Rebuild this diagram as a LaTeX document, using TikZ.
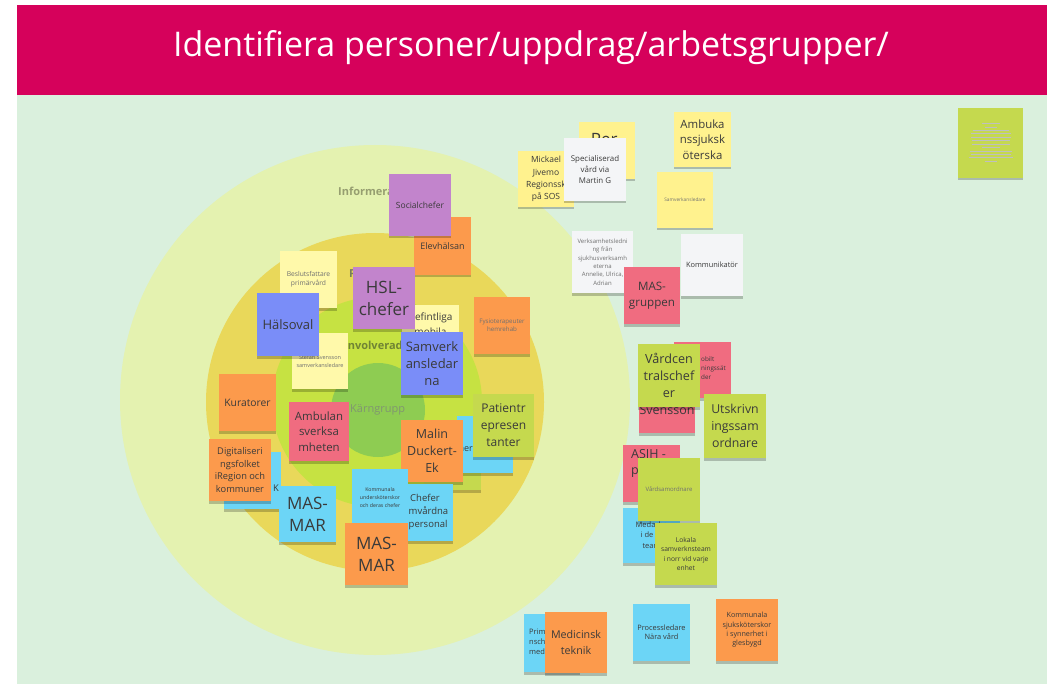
\documentclass[tikz,border=0pt]{standalone}
\usepackage{fontspec}
\setmainfont{Open Sans}
\usetikzlibrary{shadows}
\definecolor{hdr}{RGB}{214,1,91}
\definecolor{bgmint}{RGB}{218,240,221}
\definecolor{cOuter}{RGB}{228,242,176}
\definecolor{cYel}{RGB}{233,216,90}
\definecolor{cLime}{RGB}{198,226,66}
\definecolor{cCore}{RGB}{142,204,82}
\definecolor{nYelL}{RGB}{255,249,170}
\definecolor{nYel}{RGB}{255,242,142}
\definecolor{nOra}{RGB}{252,154,76}
\definecolor{nPur}{RGB}{194,132,204}
\definecolor{nBlu}{RGB}{122,141,248}
\definecolor{nCya}{RGB}{108,213,246}
\definecolor{nRed}{RGB}{240,108,128}
\definecolor{nLim}{RGB}{197,217,78}
\definecolor{nWhi}{RGB}{244,245,247}
\definecolor{tdark}{RGB}{58,58,58}
\definecolor{tgray}{RGB}{112,112,112}
\definecolor{lblOut}{RGB}{150,158,112}
\definecolor{lblInv}{RGB}{112,132,52}
\definecolor{lblCore}{RGB}{128,150,112}
\tikzset{
  sticky/.style={rectangle, inner sep=1pt, align=center, text=tdark,
    drop shadow={shadow xshift=0pt, shadow yshift=-2.5pt, opacity=0.22, fill=black}},
  ringlabel/.style={inner sep=0pt, anchor=west, font=\bfseries\fontsize{11}{13}\selectfont},
  frag/.style={inner sep=0pt, text=tdark},
}
\newcommand\stick[9]{\node[sticky,#6,minimum width={(#4)-(#2)},minimum height={(#5)-(#3)},font=\fontsize{#7}{#8}\selectfont] (#1) at ({((#2)+(#4))/2},{((#3)+(#5))/2}) {#9};}
\begin{document}
\begin{tikzpicture}[x=1pt,y=-1pt]
\useasboundingbox (0,0) rectangle (1056,684);
\fill[white] (0,0) rectangle (1056,684);
\fill[bgmint] (17,95) rectangle (1047,684);
\fill[hdr] (17,5) rectangle (1047,95);
\node[text=white, font=\fontsize{34}{40}\selectfont, inner sep=0pt] (title) at (531,48) {Identifiera personer/uppdrag/arbetsgrupper/};
% rings
\fill[cOuter] (375,400) circle (255);
\fill[cYel] (375,402) circle (169);
\fill[cLime] (377,402) circle (105);
\fill[cCore] (378,410) circle (47);
\node[ringlabel, text=lblOut] (linf) at (338,191) {Informera};
\node[ringlabel, text=lblOut!80!black] (lpav) at (349,273) {Påverka};
\node[ringlabel, text=lblInv] (linv) at (344,345) {Involverade};
\node[ringlabel, text=lblCore, font=\fontsize{11}{13}\selectfont] (lkar) at (350,410) {Kärngrupp};
% notes - circle area
\stick{elev}{414}{217}{471}{275}{fill=nOra}{9}{11}{Elevhälsan}
\stick{social}{389}{174}{451}{236}{fill=nPur}{8.5}{11}{Socialchefer}
\stick{besl}{280}{251}{337}{308}{fill=nYelL,text=tgray}{6.7}{9.3}{Beslutsfattare\\primärvård}
\stick{befint}{402}{305}{459}{362}{fill=nYelL}{10}{14}{}
\node[frag, align=center, font=\fontsize{10}{14.5}\selectfont] (befinttxt) at (430.5,324) {Befintliga\\mobila};
\stick{svens}{292}{333}{348}{389}{fill=nYelL,text=tgray}{5.5}{8}{Stefan Svensson\\samverkansledare}
\stick{hsl}{353}{267}{415}{329}{fill=nPur}{17}{22}{HSL-\\chefer}
\stick{halso}{257}{293}{319}{356}{fill=nBlu}{13}{17}{Hälsoval}
\stick{samv}{401}{332}{463}{395}{fill=nBlu}{13}{17}{Samverk\\ansledar\\na}
\stick{fysio}{474}{297}{530}{354}{fill=nOra,text=tgray}{6.2}{8.5}{Fysioterapeuter\\hemrehab}
\stick{kurat}{219}{374}{276}{431}{fill=nOra}{10.3}{13}{Kuratorer}
\stick{ambul}{289}{402}{349}{461}{fill=nRed}{11.4}{15.5}{Ambulan\\sverksa\\mheten}
\stick{limeb}{424}{433}{481}{490}{fill=nLim}{9}{12}{}
\stick{blueher}{457}{416}{513}{473}{fill=nCya}{9}{12}{}
\node[frag, anchor=east, font=\fontsize{9}{12}\selectfont] (hertxt) at (473,448) {her};
\stick{malin}{401}{420}{463}{482}{fill=nOra}{12.5}{17}{Malin\\Duckert-\\Ek}
\stick{patient}{473}{394}{534}{457}{fill=nLim}{12}{17}{Patientr\\epresen\\tanter}
\stick{bluek}{224}{452}{281}{509}{fill=nCya}{9.3}{12.8}{}
\node[frag, anchor=east, font=\fontsize{9.3}{12}\selectfont] (ktxt) at (279,488) {K};
\stick{digit}{209}{439}{271}{501}{fill=nOra}{9.3}{12.8}{Digitaliseri\\ngsfolket\\iRegion och\\kommuner}
\stick{masblue}{279}{486}{336}{542}{fill=nCya}{17}{22}{MAS-\\MAR}
\stick{chefer}{396}{484}{453}{541}{fill=nCya}{9.5}{13.3}{}
\node[frag, align=left, anchor=west, font=\fontsize{9.5}{13.3}\selectfont] (chefertxt) at (408.5,512) {\hspace*{1.5pt}Chefer\\mvårdna\\personal};
\stick{kommun}{352}{469}{408}{526}{fill=nCya}{5.2}{8}{Kommunala\\undersköterskor\\och deras chefer}
\stick{masor}{345}{523}{408}{585}{fill=nOra}{17}{22}{MAS-\\MAR}
% right cluster
\stick{per}{579}{122}{635}{179}{fill=nYel}{17}{22}{}
\node[frag, font=\fontsize{17}{22}\selectfont] (pertxt) at (607,140) {Per-};
\stick{mick}{518}{151}{574}{207}{fill=nYel}{8.5}{12.2}{Mickael\\Jivemo\\Regionssk\\på SOS}
\stick{spec}{564}{138}{626}{201}{fill=nWhi}{7.9}{11}{Specialiserad\\vård via\\Martin G}
\stick{amb}{674}{112}{731}{167}{fill=nYel}{11.4}{15.3}{Ambuka\\nssjuksk\\öterska}
\stick{samvled}{657}{172}{713}{228}{fill=nYel,text=tgray}{4.8}{7}{Samverkansledare}
\stick{verks}{572}{231}{633}{293}{fill=nWhi,text=tgray}{6}{8.3}{Verksamhetsledni\\ng från\\sjukhusverksamh\\eterna\\Annelie, Ulrica,\\Adrian}
\stick{kommunik}{681}{234}{743}{296}{fill=nWhi}{7.4}{10}{Kommunikatör}
\stick{masgr}{624}{267}{680}{324}{fill=nRed}{11.6}{16}{MAS-\\gruppen}
\stick{mobilt}{674}{342}{731}{398}{fill=nRed}{6.3}{9}{}
\node[frag, align=left, anchor=west, font=\fontsize{6.3}{9}\selectfont] (mobilttxt) at (701,368) {obilt\\ningssät\\der};
\stick{svred}{639}{376}{695}{433}{fill=nRed}{12.5}{17}{}
\node[frag, font=\fontsize{12.5}{17}\selectfont] (svtxt) at (667,410) {Svensson};
\stick{vardc}{638}{344}{700}{407}{fill=nLim}{12.6}{17}{Vårdcen\\tralschef\\er}
\stick{utskr}{704}{394}{766}{458}{fill=nLim}{12.3}{17}{Utskrivn\\ingssam\\ordnare}
\stick{asih}{623}{445}{680}{502}{fill=nRed}{12.5}{16}{}
\node[frag, align=left, anchor=north west, font=\fontsize{12.5}{16}\selectfont] (asihtxt) at (631,449) {ASIH -\\p};
\stick{medarb}{623}{508}{680}{563}{fill=nCya}{7.5}{10.5}{}
\node[frag, align=center, font=\fontsize{7.5}{10.5}\selectfont] (medarbtxt) at (651.5,535) {Medarbe\\i de m\\team};
\stick{vards}{638}{458}{700}{521}{fill=nLim,text=tgray}{6}{8}{Vårdsamordnare}
\stick{lokala}{655}{523}{717}{585}{fill=nLim}{6.7}{9.4}{Lokala\\samverknsteam\\i norr vid varje\\enhet}
\stick{prim}{524}{614}{580}{672}{fill=nCya}{7.5}{10}{}
\node[frag, align=left, anchor=west, font=\fontsize{7.5}{10}\selectfont] (primtxt) at (529,642) {Prim\\nsch\\med};
\stick{medtek}{545}{612}{607}{673}{fill=nOra}{10.7}{15.7}{Medicinsk\\teknik}
\stick{process}{633}{604}{690}{661}{fill=nCya}{7.4}{9}{Processledare\\Nära vård}
\stick{kommsj}{716}{599}{778}{661}{fill=nOra}{7.2}{9.4}{Kommunala\\sjuksköterskor\\i synnerhet i\\glesbygd}
\stick{tiny}{958}{108}{1023}{178}{fill=nLim}{3}{4}{}
\foreach \yy/\hw in {123/9,127/6,130/18,133/20,137/20,140/19,144/19,147/9,151/21,154/20,157/22,161/6}
  \draw[tgray!45, line width=0.4pt] (990.5-\hw,\yy) -- (990.5+\hw,\yy);
\end{tikzpicture}
\end{document}
